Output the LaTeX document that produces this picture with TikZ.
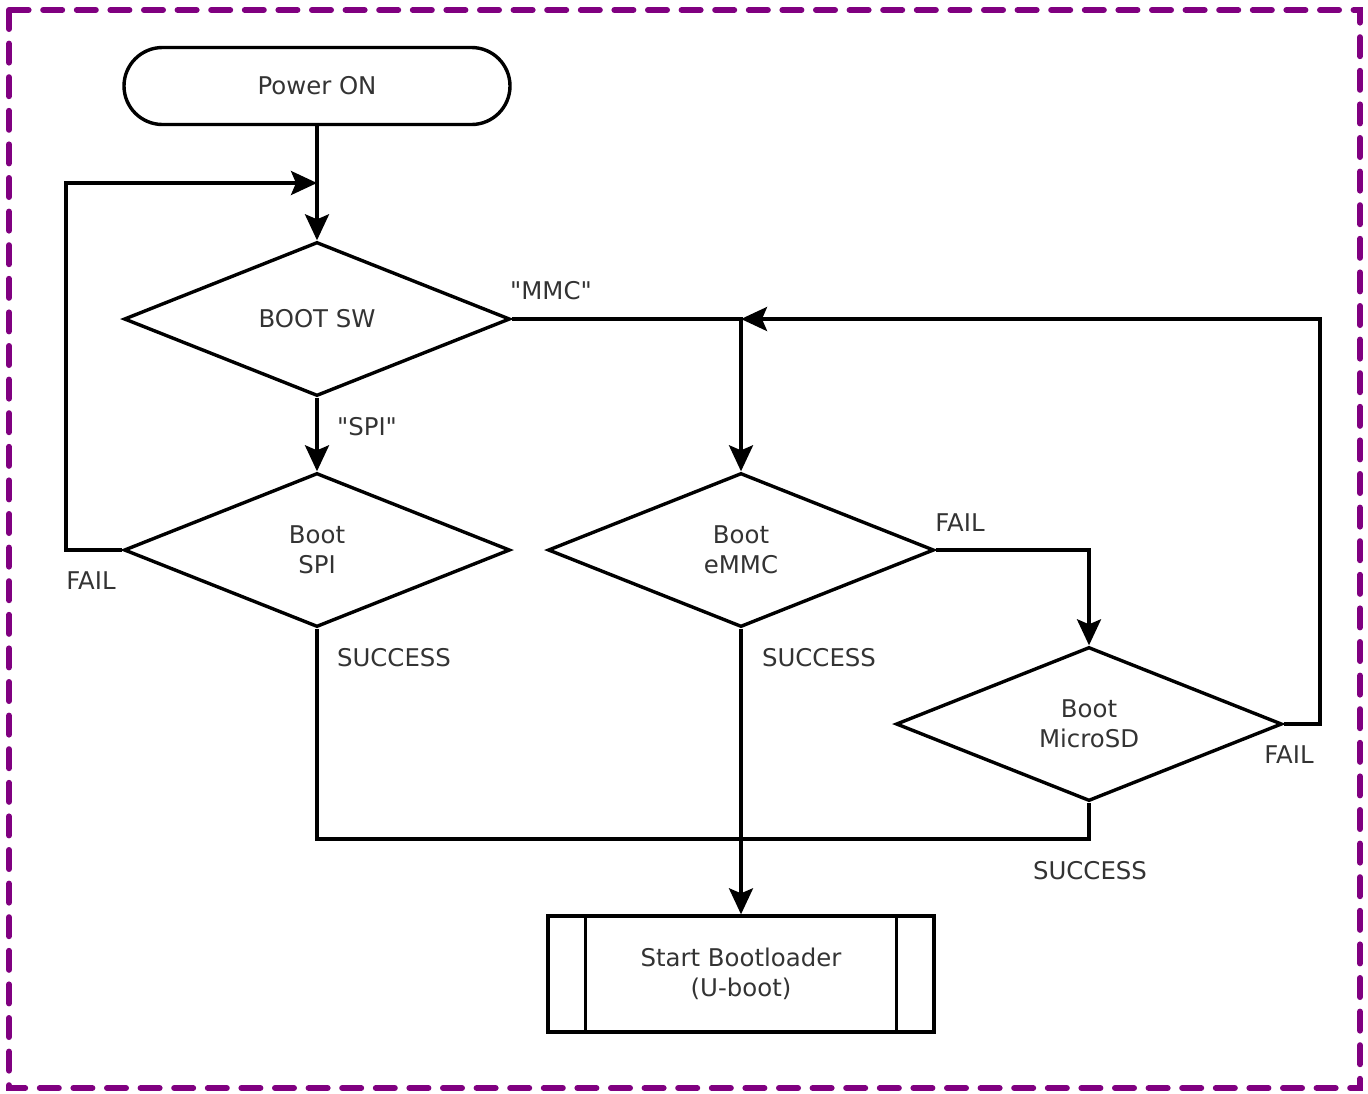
\documentclass[tikz,border=0pt]{standalone}
\usepackage{fontspec}
\setmainfont{DejaVu Sans}
\usetikzlibrary{shapes.geometric,arrows.meta}
\definecolor{bordpurple}{RGB}{128,0,128}
\definecolor{txt}{RGB}{51,51,51}
\begin{document}
\begin{tikzpicture}[x=0.5pt,y=-0.5pt,
  every node/.style={font=\fontsize{12.2}{15}\selectfont, text=txt},
  ln/.style={line width=1.7pt},
  arr/.style={ln, -{Stealth[length=13pt,width=12pt,inset=2.5pt]}},
  dia/.style={draw=black, ln, diamond, minimum width=193pt, minimum height=77pt, inner sep=0pt, align=center},
  term/.style={draw=black, ln, rectangle, rounded corners=19.25pt, minimum width=193pt, minimum height=38.5pt},
  proc/.style={draw=black, ln, rectangle, minimum width=193pt, minimum height=58pt, align=center},
  lbl/.style={inner sep=0pt}
]
\useasboundingbox (0,0) rectangle (1368,1093);
\draw[bordpurple, line width=3pt, line cap=round, dash pattern=on 9.5pt off 7.3pt] (9,10) rectangle (1360,1088);

% nodes
\node[term] (pwr) at (317,86) {Power ON};
\node[dia] (bsw) at (317,319) {BOOT SW};
\node[dia] (spi) at (317,550) {Boot\\SPI};
\node[dia] (emmc) at (741,550) {Boot\\eMMC};
\node[dia] (sd) at (1089,724) {Boot\\MicroSD};
\node[proc] (boot) at (741,974) {Start Bootloader\\(U-boot)};
\draw[ln] ([xshift=19.5pt]boot.north west) -- ([xshift=19.5pt]boot.south west);
\draw[ln] ([xshift=-19.5pt]boot.north east) -- ([xshift=-19.5pt]boot.south east);

% helper coordinates
\coordinate (j1) at (317,183);
\coordinate (j2) at (741,319);
\coordinate (l1) at (66,550);
\coordinate (r1) at (1320,724);
\coordinate (b1) at (1089,839);

% connectors
\draw[arr] (pwr.south) -- (bsw.north);
\draw[arr] (spi.west) -- (l1) |- (j1);
\draw[arr] (bsw.south) -- (spi.north);
\draw[arr] (bsw.east) -| (emmc.north);
\draw[arr] (sd.east) -- (r1) |- (j2);
\draw[arr] (emmc.east) -| (sd.north);
\draw[arr] (emmc.south) -- (boot.north);
\draw[ln] (spi.south) |- (b1) -- (sd.south);

% labels
\node[lbl] (lmmc) at (551,291) {\textquotedbl MMC\textquotedbl};
\node[lbl] (lspi) at (367,427) {\textquotedbl SPI\textquotedbl};
\node[lbl] (lf1) at (91,581) {FAIL};
\node[lbl] (ls1) at (394,658) {SUCCESS};
\node[lbl] (ls2) at (819,658) {SUCCESS};
\node[lbl] (lf2) at (960,523) {FAIL};
\node[lbl] (lf3) at (1289,755) {FAIL};
\node[lbl] (ls3) at (1090,871) {SUCCESS};
\end{tikzpicture}
\end{document}
